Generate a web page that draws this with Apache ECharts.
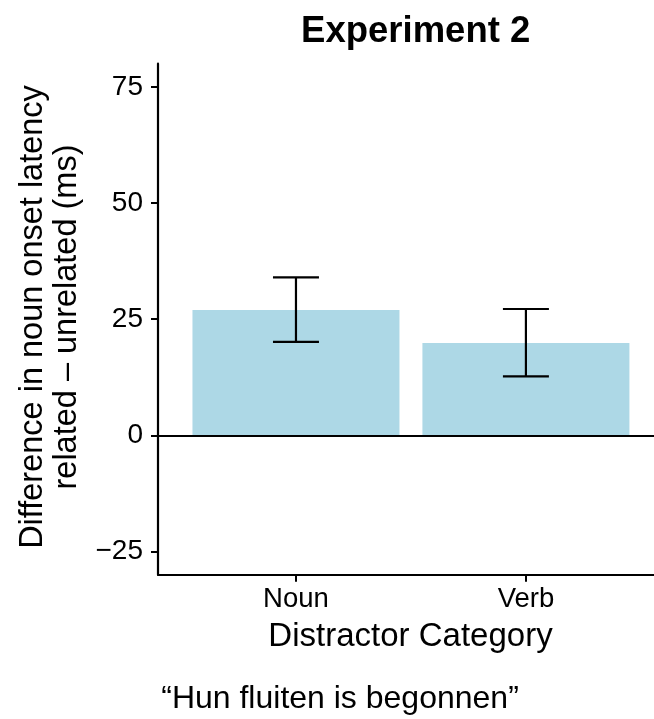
<!DOCTYPE html>
<html>
<head>
<meta charset="utf-8">
<script src="https://cdn.jsdelivr.net/npm/echarts@6/dist/echarts.min.js"></script>
<style>
html,body{margin:0;padding:0;background:#fff;}
#chart{width:654px;height:719px;}
</style>
</head>
<body>
<div id="chart"></div>
<script>
const categories = ['Noun', 'Verb'];
const meanDiff = [27.0, 19.9];
const ciLower = [20.1, 12.7];
const ciUpper = [34.0, 27.2];
const yTicks = [-25, 0, 25, 50, 75];
const titleText = 'Experiment 2';
const xTitle = 'Distractor Category';
const yTitleLine1 = 'Difference in noun onset latency';
const yTitleLine2 = 'related \u2013 unrelated (ms)';
const caption = '\u201CHun fluiten is begonnen\u201D';

const FONT = '"Liberation Sans", Arial, Helvetica, sans-serif';
const positions = categories.map((c, i) => i + 1);

const chart = echarts.init(document.getElementById('chart'), null, {renderer: 'canvas'});

const option = {
  animation: false,
  backgroundColor: '#ffffff',
  title: {
    text: titleText,
    left: 410.7,
    top: 8,
    textAlign: 'center',
    textStyle: {fontFamily: FONT, fontSize: 36.5, fontWeight: 'bold', color: '#000'}
  },
  grid: {left: 158, right: 0, top: 63.7, bottom: 144.3, containLabel: false},
  xAxis: {
    type: 'value',
    min: 0.4,
    max: 2.557,
    splitLine: {show: false},
    axisLine: {show: true, onZero: false, lineStyle: {color: '#000', width: 2.2}},
    axisTick: {show: true, customValues: positions, length: 7, lineStyle: {color: '#000', width: 2}},
    axisLabel: {
      show: true,
      customValues: positions,
      formatter: v => categories[Math.round(v) - 1] || '',
      margin: 11,
      fontFamily: FONT, fontSize: 27.5, color: '#000'
    },
    name: xTitle,
    nameLocation: 'middle',
    nameGap: 46,
    nameTextStyle: {fontFamily: FONT, fontSize: 33, color: '#000', padding: [0, 0, 0, 9]}
  },
  yAxis: {
    type: 'value',
    min: -30,
    max: 80,
    splitLine: {show: false},
    axisLine: {show: true, onZero: false, lineStyle: {color: '#000', width: 2.2}},
    axisTick: {show: true, customValues: yTicks, length: 7, lineStyle: {color: '#000', width: 2}},
    axisLabel: {
      show: true,
      customValues: yTicks,
      formatter: v => (v < 0 ? '\u2212' + Math.abs(v) : String(v)),
      margin: 15,
      fontFamily: FONT, fontSize: 28, color: '#000'
    }
  },
  series: [
    {
      type: 'bar',
      data: positions.map((p, i) => [p, meanDiff[i]]),
      barWidth: 207,
      itemStyle: {color: '#ADD8E6'},
      markLine: {
        silent: true,
        symbol: 'none',
        label: {show: false},
        lineStyle: {color: '#000', width: 2.2, type: 'solid'},
        data: [{yAxis: 0}]
      },
      z: 2
    },
    {
      type: 'custom',
      data: positions.map((p, i) => [p, ciLower[i], ciUpper[i]]),
      renderItem: function (params, api) {
        const x = api.value(0);
        const lo = api.coord([x, api.value(1)]);
        const hi = api.coord([x, api.value(2)]);
        const half = api.size([0.1, 0])[0];
        const style = {stroke: '#000', lineWidth: 2.2};
        return {
          type: 'group',
          children: [
            {type: 'line', shape: {x1: lo[0], y1: lo[1], x2: hi[0], y2: hi[1]}, style: style},
            {type: 'line', shape: {x1: hi[0] - half, y1: hi[1], x2: hi[0] + half, y2: hi[1]}, style: style},
            {type: 'line', shape: {x1: lo[0] - half, y1: lo[1], x2: lo[0] + half, y2: lo[1]}, style: style}
          ]
        };
      },
      z: 5
    }
  ],
  graphic: [
    {
      type: 'text',
      x: 33, y: 317,
      rotation: Math.PI / 2,
      style: {text: yTitleLine1, font: '32.5px ' + FONT, fill: '#000', align: 'center', verticalAlign: 'middle'}
    },
    {
      type: 'text',
      x: 67, y: 317,
      rotation: Math.PI / 2,
      style: {text: yTitleLine2, font: '32.5px ' + FONT, fill: '#000', align: 'center', verticalAlign: 'middle'}
    },
    {
      type: 'text',
      x: 340, y: 699,
      style: {text: caption, font: '32px ' + FONT, fill: '#000', align: 'center', verticalAlign: 'middle'}
    }
  ]
};

chart.setOption(option);
</script>
</body>
</html>
